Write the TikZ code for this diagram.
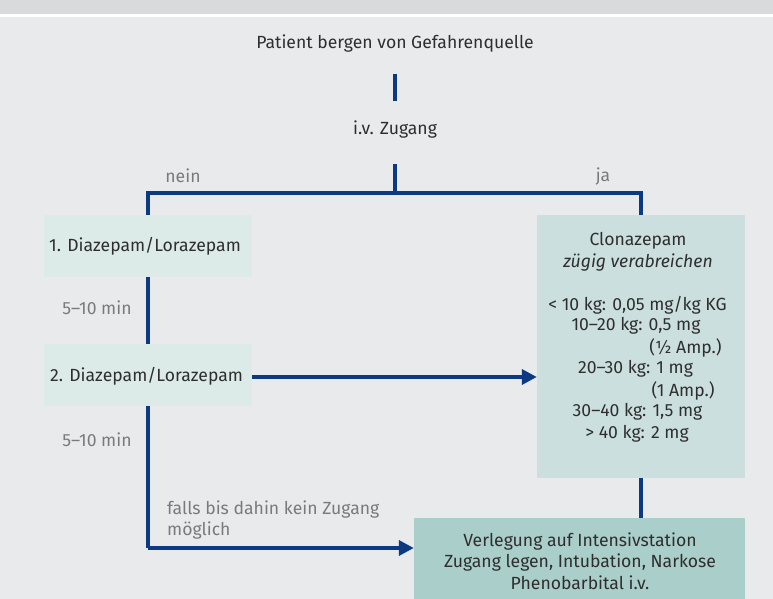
\documentclass[tikz,border=0pt]{standalone}
\usepackage{fontspec}
\setmainfont{Fira Sans}
\usetikzlibrary{arrows.meta,calc}
\definecolor{bgc}{HTML}{E9EAEC}
\definecolor{bandc}{HTML}{D9DADC}
\definecolor{linec}{HTML}{0B3A82}
\definecolor{boxa}{HTML}{DCEAE8}
\definecolor{boxb}{HTML}{CBE0DE}
\definecolor{boxc}{HTML}{AACECA}
\definecolor{txt}{HTML}{2E2E2E}
\definecolor{lbl}{HTML}{7A7A7A}
\begin{document}
\begin{tikzpicture}[x=1bp,y=-1bp,
  every node/.style={font=\fontsize{17.6bp}{21.5bp}\selectfont, text=txt, inner sep=0pt},
  conn/.style={draw=linec, line width=3.5bp},
  arr/.style={conn, -{Triangle[length=15bp,width=15bp]}},
  lab/.style={text=lbl},
  boxstyle/.style={minimum width=208bp, minimum height=62bp},
]
\useasboundingbox (0,0) rectangle (773,599);
\fill[bgc] (0,0) rectangle (773,599);
\fill[bandc] (0,0) rectangle (773,14);
\fill[white] (0,14) rectangle (773,17);

% nodes
\node (patient) at (395,44) {Patient bergen von Gefahrenquelle};
\node (ivz) at (395,130) {i.v. Zugang};
\coordinate (split) at (395,193);
\node[boxstyle, fill=boxa] (d1) at (148,246) {};
\node[anchor=west] (d1t) at (49,246) {1. Diazepam/Lorazepam};
\node[boxstyle, fill=boxa] (d2) at (148,375) {};
\node[anchor=west] (d2t) at (50,376) {2. Diazepam/Lorazepam};
\node[fill=boxb, minimum width=208bp, minimum height=263bp] (clon) at (641,346.5) {};
\node[fill=boxc, minimum width=331bp, minimum height=86bp] (icu) at (579.5,561) {};
\coordinate (turn) at (148,548);

% clonazepam text
\node at (638,241) {Clonazepam};
\node at (638,263) {\itshape zügig verabreichen};
\node at (637.5,305) {< 10 kg: 0,05 mg/kg KG};
\node at (636,326) {10–20 kg: 0,5 mg};
\node at (685.5,348) {(½ Amp.)};
\node at (635.5,369) {20–30 kg: 1 mg};
\node at (683,391) {(1 Amp.)};
\node at (637.5,412) {30–40 kg: 1,5 mg};
\node at (637,434) {> 40 kg: 2 mg};

% icu text
\node[align=center] at (580,561) {Verlegung auf Intensivstation\\Zugang legen, Intubation, Narkose\\Phenobarbital i.v.};

% labels
\node[lab] at (183,176) {nein};
\node[lab] at (603,177) {ja};
\node[lab] at (97,308) {5–10 min};
\node[lab] at (97,440) {5–10 min};
\node[lab, anchor=west, align=left] at (167,520) {falls bis dahin kein Zugang\\möglich};

% connectors
\draw[conn] ($(patient.center)+(0,30)$) -- ($(ivz.center)+(0,-29)$);
\draw[conn] ($(ivz.center)+(0,34)$) -- (split);
\draw[conn] (split) -| (d1.north);
\draw[conn] (split) -| (clon.north);
\draw[conn] (d1.south) -- (d2.north);
\draw[arr] (d2.east |- 0,377) -- (clon.west |- 0,377);
\draw[conn] (d2.south) -- (turn);
\draw[arr] (turn) -- (turn -| icu.west);
\draw[conn] (clon.south) -- (icu.north -| clon.south);
\end{tikzpicture}
\end{document}
